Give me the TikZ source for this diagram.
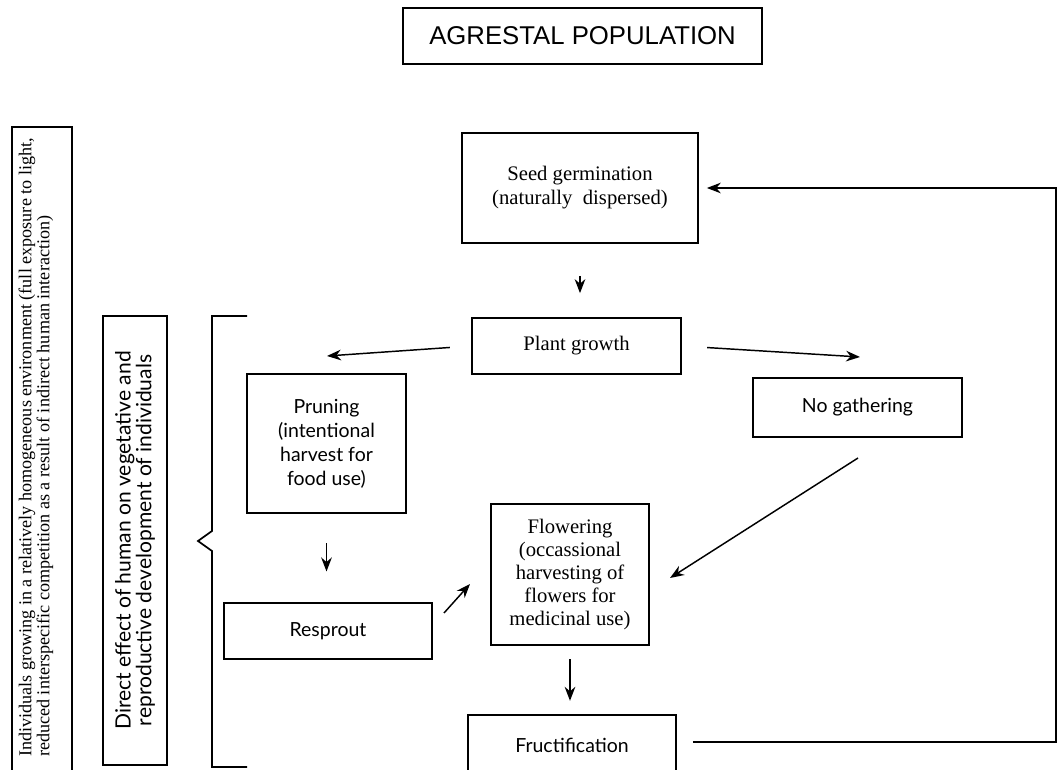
\documentclass[tikz,border=0pt]{standalone}
\usepackage{fontspec}
\setmainfont{Liberation Serif}
\newfontfamily\helv{Liberation Sans}
\newfontfamily\gill{Lato}
\usetikzlibrary{arrows.meta}

\tikzset{
  box/.style={draw, line width=1.3pt, inner sep=0pt, align=center},
  sz/.style 2 args={minimum width=#1*0.75pt, minimum height=#2*0.75pt},
  sans/.style={font=\gill\fontsize{14.6}{18}\selectfont},
  arr/.style={-{Stealth[length=10.5pt,width=8pt]}, line width=1.1pt},
}

\begin{document}
\begin{tikzpicture}[x=0.75pt,y=-0.75pt]
      \useasboundingbox (0,0) rectangle (1058,770);
      \clip (0,0) rectangle (1058,770);

      % left column: outer frame, text set on its own
      \draw[line width=1.3pt] (12,790) -- (12,127) -- (72,127) -- (72,790);
      \node[rotate=90, align=left, inner sep=0pt, font=\fontsize{13.6}{11}\selectfont] (habitat) at (36,447.5)
          {Individuals growing in a relatively homogeneous environment (full exposure to light,\\
           reduced interspecific competition as a result of indirect human interaction)};

      \begin{scope}[every node/.style={box, font=\fontsize{15.5}{18}\selectfont}]
        \node[sz={359}{56}, font=\helv\fontsize{19.3}{22}\selectfont] (title) at (582.5,36) {AGRESTAL POPULATION};
        \node[sz={449}{64}, rotate=90, font=\gill\fontsize{15.8}{15.5}\selectfont] (effect) at (135,540.5)
          {Direct effect of human on vegetative and\\reproductive development of individuals};
        \node[sz={236}{110}] (seed) at (580,188) {Seed germination\\(naturally\ \ dispersed)};
        \node[sz={209}{56}] (plant) at (576.5,346) {Plant growth};
        \node[sz={209}{59}, sans] (nogath) at (857.5,407.5) {No gathering};
        \node[sz={159}{139}, sans] (prune) at (326.5,443.5) {Pruning\\(intentional\\harvest for\\food use)};
        \node[sz={208}{56}, sans] (resprout) at (328,631) {Resprout};
        \node[sz={158}{141}, font=\fontsize{15.5}{17.3}\selectfont] (flower) at (570,574.5)
          {Flowering\\(occassional\\harvesting of\\flowers for\\medicinal use)};
        \node[sz={208}{60}, sans] (fruct) at (572,745) {Fructification};
      \end{scope}

      % bracket
      \draw[line width=1.3pt] (247,316) -- (212,316) -- (212,531) -- (198,541) -- (212,551) -- (212,767) -- (247,767);

      % arrow tips
      \coordinate (pruneTip) at (327,356);
      \coordinate (nogTip) at (860,357);
      \coordinate (nogOut) at (858,458);
      \coordinate (flowTip) at (670,578);
      \coordinate (rsOut) at (444,613);
      \coordinate (rsTip) at (470,584);
      \coordinate (loop) at (1056,742);

      \draw[arr, shorten <=24, shorten >=18] (seed.south) -- (seed.south |- plant.north);
      \draw[arr, shorten <=16] (plant.west) -- (pruneTip);
      \draw[arr, shorten <=19] (plant.east) -- (nogTip);
      \draw[arr] (nogOut) -- (flowTip);
      \draw[arr, shorten <=22, shorten >=23] (prune.south) -- (prune.south |- resprout.north);
      \draw[arr] (rsOut) -- (rsTip);
      \draw[arr, shorten <=10, shorten >=10] (flower.south) -- (flower.south |- fruct.north);
      \draw[arr, shorten <=12, shorten >=6] (fruct.east |- loop) -- (loop) |- (seed.east);

\end{tikzpicture}
\end{document}
